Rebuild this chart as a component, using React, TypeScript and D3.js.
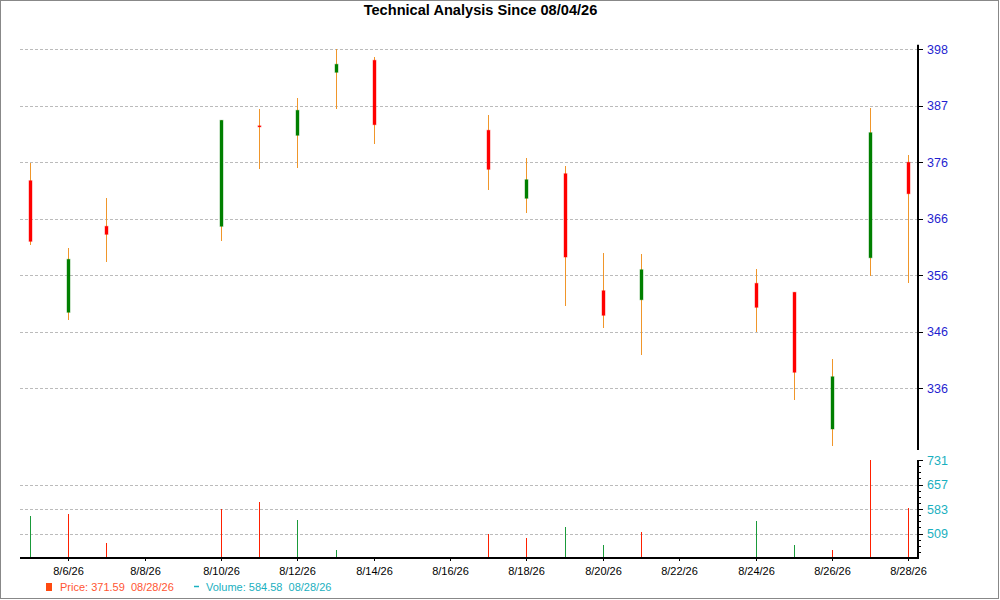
import React from "react";
import * as d3 from "d3";

const dates = ["2026-08-05","2026-08-06","2026-08-07","2026-08-10","2026-08-11","2026-08-12","2026-08-13","2026-08-14","2026-08-17","2026-08-18","2026-08-19","2026-08-20","2026-08-21","2026-08-24","2026-08-25","2026-08-26","2026-08-27","2026-08-28"];
const opens = [373.97,349.9,365.63,365.63,384.0,382.27,393.79,395.99,383.19,370.75,375.25,353.85,352.2,355.2,353.56,328.56,359.88,377.33];
const highs = [377.26,361.6,370.75,385.01,387.03,389.04,398.1,396.54,385.98,378.12,376.66,360.69,360.51,357.76,353.56,341.36,387.26,378.61];
const lows = [362.26,348.55,359.15,363.0,376.05,376.35,387.14,380.73,372.32,368.12,351.11,347.08,342.14,346.35,333.91,325.5,356.63,355.31];
const closes = [362.88,359.59,364.16,385.01,383.9,386.84,395.26,384.21,376.05,374.15,360.01,349.35,357.69,350.81,338.93,338.12,382.75,371.59];
const volumes = [562,568,480,582,604,550,460,430,507,495,529,474,514,547,474,460,731,584.58];
const volumeUp = [true,false,false,false,false,true,true,false,false,false,true,true,false,true,true,false,false,false];

const priceTickLabels = ["336","346","356","366","376","387","398"];
const volumeTickLabels = ["509","583","657","731"];
const xTickDates = ["2026-08-06","2026-08-08","2026-08-10","2026-08-12","2026-08-14","2026-08-16","2026-08-18","2026-08-20","2026-08-22","2026-08-24","2026-08-26","2026-08-28"];

const title = "Technical Analysis Since 08/04/26";
const legendPrice = "Price: 371.59  08/28/26";
const legendVolume = "Volume: 584.58  08/28/26";

const parse = d3.timeParse("%Y-%m-%d");
const fmt = d3.timeFormat("%-m/%-d/%y");
const DAY = 86400000;

export default function App() {
  const W = 1000, H = 600;
  const left = 20, right = 918;
  const pTop = 44.7, pBot = 450;
  const vTop = 460, vBot = 558;
  const font = "'Liberation Sans', Arial, sans-serif";

  const d0 = parse(dates[0])!.getTime();
  const d1 = parse(dates[dates.length - 1])!.getTime();
  const x = d3.scaleTime().domain([new Date(d0 - 0.265 * DAY), new Date(d1 + 0.254 * DAY)]).range([left, right]);
  const y = d3.scaleLinear().domain([324.72, 398.84]).range([pBot, pTop]);
  const yv = d3.scaleLinear().domain([435, 731]).range([vBot, vTop]);

  const priceTicks = priceTickLabels.map((l, i) => ({ v: 336 + (i * 62) / 6, l }));
  const volTicks = volumeTickLabels.map((l, i) => ({ v: 509 + i * 74, l }));
  const volMinor = d3.range(0, 17).map((i) => 435 + i * 18.5).filter((v, i) => i % 4 !== 0);

  const red = "#ff0000", green = "#008000", wick = "#f0962a";
  const blue = "#1f1fd0", teal = "#1ab0c0";

  return (
    <div style={{ position: "fixed", left: 0, top: 0, width: W, height: H }}>
      <svg width={W} height={H} style={{ display: "block", background: "#fff" }}>
        <rect x={0.5} y={0.5} width={998} height={598} fill="#fff" stroke="#888" />
        <text x={480.5} y={15} textAnchor="middle" fontFamily={font} fontWeight="bold" fontSize={14.6}>{title}</text>

        {priceTicks.map((t) => (
          <line key={"pg" + t.l} x1={left} x2={right} y1={Math.round(y(t.v)) + 0.5} y2={Math.round(y(t.v)) + 0.5} stroke="#bbb" strokeDasharray="3,2" />
        ))}
        {volTicks.slice(0, 3).map((t) => (
          <line key={"vg" + t.l} x1={left} x2={right} y1={Math.round(yv(t.v)) + 0.5} y2={Math.round(yv(t.v)) + 0.5} stroke="#bbb" strokeDasharray="3,2" />
        ))}

        {dates.map((d, i) => {
          const cx = Math.round(x(parse(d)!)) + 0.5;
          const o = opens[i], c = closes[i];
          const col = c >= o ? green : red;
          const top = y(Math.max(o, c));
          const h = Math.max(1, y(Math.min(o, c)) - top);
          return (
            <g key={"c" + d}>
              <line x1={cx} x2={cx} y1={y(highs[i])} y2={y(lows[i])} stroke={wick} strokeWidth={1} shapeRendering="crispEdges" />
              <rect x={cx - 1.5} y={top} width={3} height={h} fill={col} stroke={col} strokeOpacity={0.4} strokeWidth={1} />
            </g>
          );
        })}

        {dates.map((d, i) => {
          const cx = Math.round(x(parse(d)!)) + 0.5;
          const v = Math.max(435, volumes[i]);
          return (
            <line key={"v" + d} x1={cx} x2={cx} y1={yv(v)} y2={vBot} stroke={volumeUp[i] ? "#1a9a3a" : "#ff2000"} strokeWidth={1} shapeRendering="crispEdges" />
          );
        })}

        <line x1={right} x2={right} y1={pTop} y2={pBot} stroke="#000" strokeWidth={2} />
        {priceTicks.map((t) => (
          <g key={"pt" + t.l}>
            <line x1={right} x2={right + 5} y1={Math.round(y(t.v)) + 0.5} y2={Math.round(y(t.v)) + 0.5} stroke="#000" />
            <text x={927} y={y(t.v) + 4.5} fontFamily={font} fontSize={12.5} fill={blue}>{t.l}</text>
          </g>
        ))}

        <line x1={right} x2={right} y1={vTop} y2={vBot + 1} stroke="#000" strokeWidth={2} />
        {volTicks.map((t) => (
          <g key={"vt" + t.l}>
            <line x1={right} x2={right + 5} y1={Math.round(yv(t.v)) + 0.5} y2={Math.round(yv(t.v)) + 0.5} stroke="#000" />
            <text x={927} y={yv(t.v) + 4.5} fontFamily={font} fontSize={12.5} fill={teal}>{t.l}</text>
          </g>
        ))}
        {volMinor.map((v) => (
          <line key={"vm" + v} x1={right} x2={right + 3} y1={Math.round(yv(v)) + 0.5} y2={Math.round(yv(v)) + 0.5} stroke="#000" />
        ))}

        <line x1={left} x2={right + 1} y1={vBot} y2={vBot} stroke="#000" strokeWidth={2} />
        {xTickDates.map((d) => {
          const tx = Math.round(x(parse(d)!)) + 0.5;
          return (
            <g key={"xt" + d}>
              <line x1={tx} x2={tx} y1={vBot} y2={vBot + 3} stroke="#000" />
              <text x={tx} y={575} textAnchor="middle" fontFamily={font} fontSize={11}>{fmt(parse(d)!)}</text>
            </g>
          );
        })}

        <rect x={46} y={583} width={6} height={8} fill="#ff4a10" />
        <text x={60} y={591} fontFamily={font} fontSize={11} fill="#ff5533" style={{ whiteSpace: "pre" }}>{legendPrice}</text>
        <line x1={194} x2={199} y1={586.5} y2={586.5} stroke={teal} strokeWidth={1.5} />
        <text x={206} y={591} fontFamily={font} fontSize={11} fill={teal} style={{ whiteSpace: "pre" }}>{legendVolume}</text>
      </svg>
    </div>
  );
}
